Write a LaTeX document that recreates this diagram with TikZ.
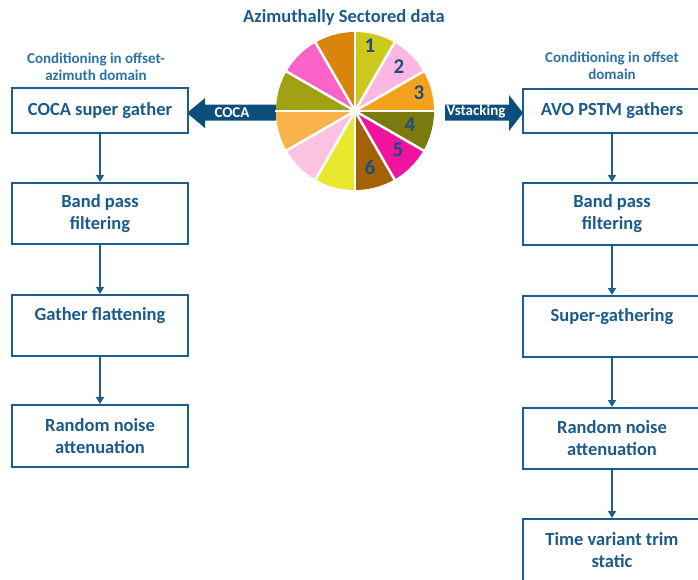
\documentclass[tikz,border=0pt]{standalone}
\usepackage{fontspec}
\setmainfont{Carlito}
\usetikzlibrary{arrows.meta}
\definecolor{boxblue}{HTML}{1D5D8D}
\definecolor{textblue}{HTML}{1B5A89}
\definecolor{headblue}{HTML}{2A72A6}
\definecolor{arrowblue}{HTML}{0D4E7D}
\definecolor{numblue}{HTML}{1F4E79}
\definecolor{sA}{HTML}{CCC81C}
\definecolor{sB}{HTML}{FCB8E2}
\definecolor{sC}{HTML}{F4A21E}
\definecolor{sD}{HTML}{7A7A0E}
\definecolor{sE}{HTML}{F0139D}
\definecolor{sF}{HTML}{A3620A}
\definecolor{sG}{HTML}{EAE82E}
\definecolor{sH}{HTML}{FCC2E2}
\definecolor{sI}{HTML}{FAB24A}
\definecolor{sJ}{HTML}{A2A013}
\definecolor{sK}{HTML}{FA63C8}
\definecolor{sL}{HTML}{D9840A}
\begin{document}
\begin{tikzpicture}[x=1pt,y=-1pt,
  flowbox/.style={draw=boxblue, line width=2pt, fill=white, text=textblue,
    font=\fontsize{18.5}{22}\selectfont\bfseries, align=center, inner sep=0pt},
  leftbox/.style={flowbox, minimum width=176pt},
  rightbox/.style={flowbox, minimum width=178pt},
  conn/.style={draw=boxblue, line width=2pt, -{Triangle[width=8pt,length=7pt]}},
  headtext/.style={text=headblue, font=\fontsize{15}{17}\selectfont\bfseries, align=center, inner sep=0pt},
  arrowtext/.style={text=white, font=\fontsize{15}{16}\selectfont\bfseries, inner sep=0pt},
  numtext/.style={text=numblue, font=\fontsize{21}{22}\selectfont\bfseries, inner sep=0pt},
  sectorline/.style={white, line width=2.5pt}
]
\useasboundingbox (0,0) rectangle (698,579);
\clip (0,0) rectangle (698,579);

% title
\node[text=textblue, font=\fontsize{18.5}{20}\selectfont\bfseries, inner sep=0pt] (title) at (344,17) {Azimuthally Sectored data};

% block arrows
\coordinate (cocaTip) at (187,113);
\coordinate (vsTip) at (523,113);
\fill[arrowblue] (276,104.5) -- (205,104.5) -- (205,98) -- (cocaTip) -- (205,128) -- (205,120.5) -- (276,120.5) -- cycle;
\fill[arrowblue] (445,104.5) -- (509,104.5) -- (509,95) -- (vsTip) -- (509,131) -- (509,120.5) -- (445,120.5) -- cycle;
\node[arrowtext] (cocalbl) at (232,113) {COCA};
\node[arrowtext] (vslbl) at (476,112) {Vstacking};

% pie
\coordinate (pc) at (355,111);
\node[circle, minimum size=158pt, inner sep=0pt] (pie) at (pc) {};
\foreach \a/\c in {90/sA,60/sB,30/sC,0/sD,-30/sE,-60/sF,-90/sG,-120/sH,-150/sI,-180/sJ,-210/sK,-240/sL}{
  \fill[\c] (pc) -- ++(\a:79pt) arc[start angle=\a, end angle=\a-30, radius=79pt] -- cycle;
}
\foreach \a in {0,30,...,330}{
  \draw[sectorline] (pc) -- ++(\a:80pt);
}
\node[numtext] (n1) at (370,46) {1};
\node[numtext] (n2) at (399,67) {2};
\node[numtext] (n3) at (419,93) {3};
\node[numtext] (n4) at (410,125) {4};
\node[numtext] (n5) at (398,150) {5};
\node[numtext] (n6) at (370,167) {6};

% headers
\node[headtext] (hl) at (96,66.5) {Conditioning in offset-\\azimuth domain};
\node[headtext] (hr) at (612,65.5) {Conditioning in offset\\domain};

% left column
\node[leftbox, minimum height=45pt] (L1) at (100,110.5) {COCA super gather};
\node[leftbox, minimum height=61pt] (L2) at (100,213.5) {Band pass\\filtering};
\node[leftbox, minimum height=61pt] (L3) at (100,325.5) {Gather flattening\\\mbox{}};
\node[leftbox, minimum height=62pt] (L4) at (100,436) {Random noise\\attenuation};

% right column
\node[rightbox, minimum height=44pt] (R1) at (612,111) {AVO PSTM gathers};
\node[rightbox, minimum height=62pt] (R2) at (612,214) {Band pass\\filtering};
\node[rightbox, minimum height=61pt] (R3) at (612,326.5) {Super-gathering\\\mbox{}};
\node[rightbox, minimum height=61pt] (R4) at (612,438.5) {Random noise\\attenuation};
\node[rightbox, minimum height=62pt] (R5) at (612,550) {Time variant trim\\static};

\draw[conn] (L1) -- (L2);
\draw[conn] (L2) -- (L3);
\draw[conn] (L3) -- (L4);
\draw[conn] (R1) -- (R2);
\draw[conn] (R2) -- (R3);
\draw[conn] (R3) -- (R4);
\draw[conn] (R4) -- (R5);
\end{tikzpicture}
\end{document}
